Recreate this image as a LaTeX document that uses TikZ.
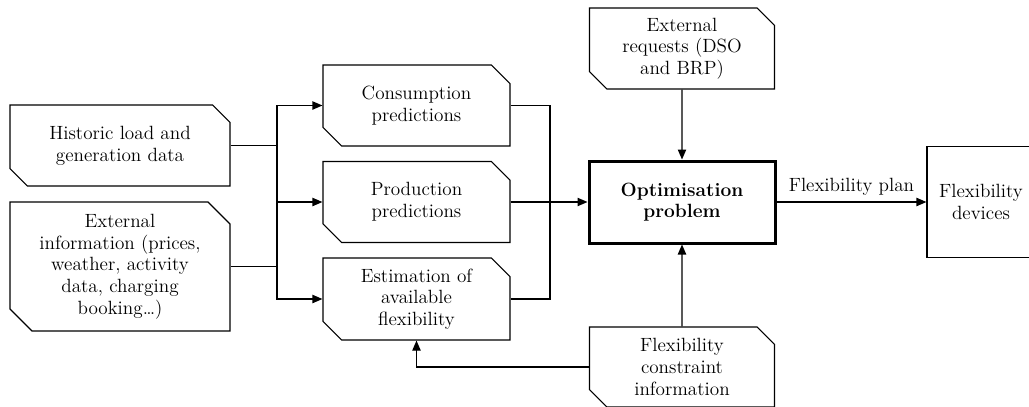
\documentclass[tikz,border=0pt]{standalone}
\usepackage{tikz}
\usetikzlibrary{arrows.meta,positioning,calc,shapes.misc}
\tikzset{
    %Define standard arrow tip
    >={Triangle[length=6pt,width=5pt]},
    % Define arrow style
    pil/.style={
           ->,
           line width=0.7pt},
    % Define style for plain lines
    bus/.style={
           line width=0.8pt}
}

\begin{document}
\begin{tikzpicture}[x=0.6pt,y=-0.6pt,font=\fontsize{11.5}{13}\selectfont]
	\tikzstyle{doc} = [chamfered rectangle, chamfered rectangle corners={north east,south west}, chamfered rectangle xsep=5.2pt, chamfered rectangle ysep=5.2pt, draw, line width=0.7pt, align=center, inner sep=0pt]

	\tikzstyle{plain} = [rectangle, draw, line width=0.7pt, align=center, inner sep=2pt]

	\useasboundingbox (0,0) rectangle (1029,407);

	% Inputs
	\node[doc, minimum width=132pt, minimum height=48.6pt](hist) at (120,145.5){Historic load and\\generation data};
	\node[doc, minimum width=132pt, minimum height=77.4pt, chamfered rectangle xsep=6.6pt, chamfered rectangle ysep=6.6pt](extinfo) at (120,266.5){External\\information (prices,\\weather, activity\\data, charging\\booking\ldots)};

	% Predictions
	\node[doc, minimum width=112.2pt, minimum height=48.6pt, chamfered rectangle xsep=5.6pt, chamfered rectangle ysep=5.6pt](cons) at (416.5,105.5){Consumption\\predictions};
	\node[doc, minimum width=112.2pt, minimum height=48.6pt, chamfered rectangle xsep=5.6pt, chamfered rectangle ysep=5.6pt](prod) at (416.5,202){Production\\predictions};
	\node[doc, minimum width=112.2pt, minimum height=49.2pt, chamfered rectangle xsep=5.6pt, chamfered rectangle ysep=5.6pt](estim) at (416.5,299){Estimation of\\available\\flexibility};

	% Optimisation
	\node[plain, line width=1.8pt, minimum width=111.6pt, minimum height=49.2pt, font=\fontsize{11.5}{13}\selectfont\bfseries](opt) at (682,202){Optimisation\\problem};
	\node[doc, minimum width=111pt, minimum height=48.6pt](extreq) at (682,48.5){External\\requests (DSO\\and BRP)};
	\node[doc, minimum width=111pt, minimum height=48pt](constr) at (682,367){Flexibility\\constraint\\information};
	\node[plain, minimum width=64.8pt, minimum height=66.6pt](dev) at (981,202){Flexibility\\devices};

	\coordinate (ibus) at (277,0);
	\coordinate (obus) at (550,202);

	\draw[bus] (hist.east) -- (hist.east -| ibus)
	           (extinfo.east) -- (extinfo.east -| ibus)
	           (hist.east -| ibus) -- (extinfo.east -| ibus);
	\draw[pil] (hist.east -| ibus) |- (cons.west);
	\draw[pil] (extinfo.east -| ibus) |- (estim.west);
	\draw[pil] (prod.west -| ibus) -- (prod.west);

	\draw[bus, line width=0.7pt] (cons.east) -| (obus) |- (estim.east);
	\draw[pil] (prod.east) -- (opt.west);

	\draw[pil] (extreq) -- (opt);
	\draw[pil] (constr) -- (opt);
	\draw[pil] (constr.west) -| (estim.south);
	\draw[pil] (opt.east) -- node[above]{Flexibility plan} (dev.west);

\end{tikzpicture}
\end{document}
